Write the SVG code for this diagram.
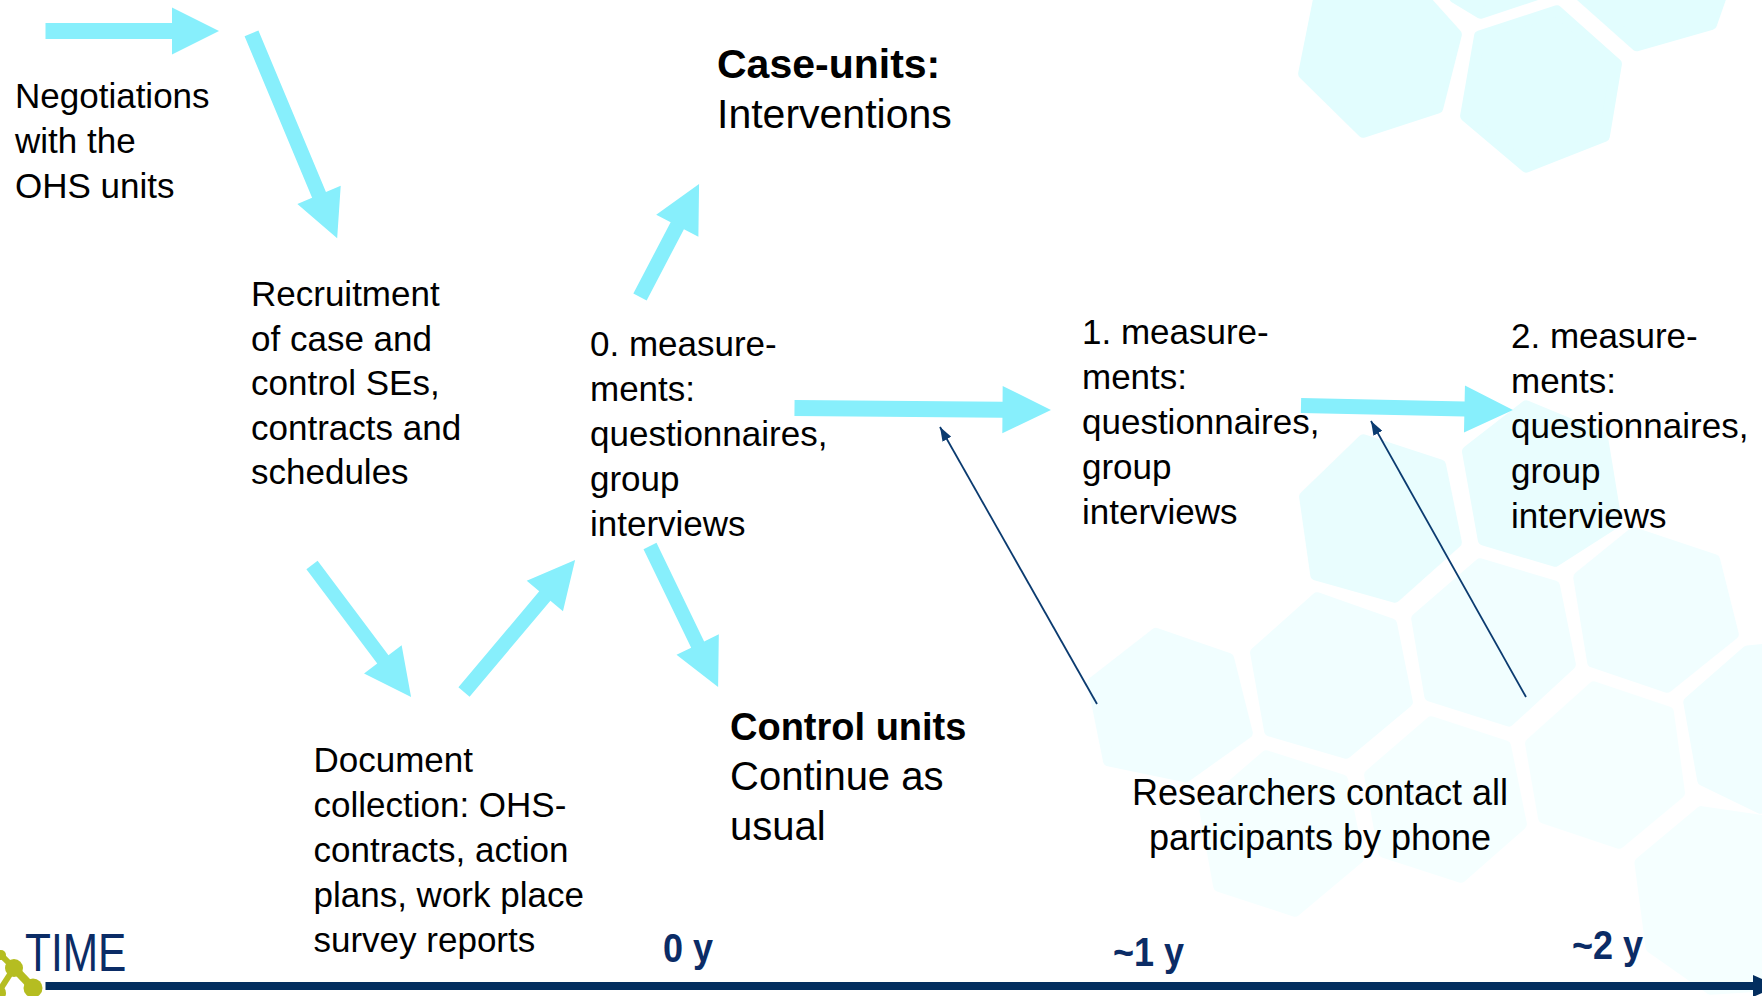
<svg xmlns="http://www.w3.org/2000/svg" width="1762" height="996" viewBox="0 0 1762 996">
  <defs>
    <style>
      .t { font-family: "Liberation Sans", Arial, sans-serif; font-size: 35px; fill: #000; }
      .head { font-size: 41px; }
      .bold { font-weight: bold; }
      .axis-label { font-family: "Liberation Sans", Arial, sans-serif; fill: #0B2C66; }
      .flow { fill: #87EFFC; }
      .link { stroke: #0B3B70; stroke-width: 1.8; fill: none; }
      .hex-top { fill: #E2FDFE; stroke: #E2FDFE; stroke-width: 12; stroke-linejoin: round; }
      .hex-mid { fill: #E9FDFE; stroke: #E9FDFE; stroke-width: 12; stroke-linejoin: round; }
      .hex-low { fill: #F1FEFF; stroke: #F1FEFF; stroke-width: 12; stroke-linejoin: round; }
      .hex-far { fill: #F5FFFF; stroke: #F5FFFF; stroke-width: 12; stroke-linejoin: round; }
      .dot { fill: #B5BD21; }
    </style>
    <marker id="tip" viewBox="0 0 14 10" refX="14" refY="5" markerWidth="14" markerHeight="10" markerUnits="userSpaceOnUse" orient="auto">
      <path d="M0,0 L14,5 L0,10 z" fill="#0B3B70"/>
    </marker>
  </defs>

  <rect width="1762" height="996" fill="#fff"/>

  <!-- decorative honeycomb backdrop -->
  <g id="backdrop">
    <polygon class="hex-top" points="1318,-25 1298,75 1362,138 1442,112 1462,33 1410,-25" transform="matrix(0.93,0,0,0.93,96.6,3.9)"/>
    <polygon class="hex-top" points="1558,5 1622,62 1609,140 1525,173 1460,118 1475,32" transform="matrix(0.93,0,0,0.93,107.9,6.2)"/>
    <polygon class="hex-top" points="1440,-30 1452,-2 1480,15 1540,-5 1545,-30" transform="matrix(0.93,0,0,0.93,104.3,-0.7)"/>
    <polygon class="hex-top" points="1565,-15 1636,48 1716,25 1730,-15" transform="matrix(0.93,0,0,0.93,115.5,1.1)"/>

    <polygon class="hex-mid" points="1362,434 1445,461 1462,544 1396,603 1311,579 1299,495" transform="matrix(0.93,0,0,0.93,96.6,36.3)"/>
    <polygon class="hex-mid" points="1525,400 1607,434 1622,525 1556,567 1479,544 1462,449" transform="matrix(0.93,0,0,0.93,107.9,33.9)"/>

    <polygon class="hex-low" points="1632,527 1719,556 1739,636 1668,693 1588,666 1573,575" transform="matrix(0.93,0,0,0.93,115.9,42.7)"/>
    <polygon class="hex-low" points="1748,645 1685,700 1700,784 1762,814 1800,800 1800,640" transform="matrix(0.93,0,0,0.93,121.8,51.1)"/>
    <polygon class="hex-low" points="1479,558 1559,582 1576,666 1510,727 1425,700 1411,617" transform="matrix(0.93,0,0,0.93,104.6,44.9)"/>
    <polygon class="hex-low" points="1316,592 1396,620 1413,704 1347,759 1265,735 1250,651" transform="matrix(0.93,0,0,0.93,93.2,47.3)"/>
    <polygon class="hex-low" points="1155,628 1233,655 1253,735 1187,782 1104,765 1087,681" transform="matrix(0.93,0,0,0.93,81.9,49.4)"/>

    <polygon class="hex-far" points="1593,681 1673,708 1685,795 1620,849 1539,822 1525,742" transform="matrix(0.93,0,0,0.93,112.4,53.6)"/>
    <polygon class="hex-far" points="1430,716 1510,742 1527,826 1462,883 1379,856 1364,773" transform="matrix(0.93,0,0,0.93,101.2,56)"/>
    <polygon class="hex-far" points="1265,750 1347,776 1364,860 1296,917 1214,890 1199,807" transform="matrix(0.93,0,0,0.93,89.7,58.4)"/>
    <polygon class="hex-far" points="1700,805 1634,860 1646,951 1710,996 1800,990 1800,820" transform="matrix(0.93,0,0,0.93,120.4,63)"/>
  </g>

  <!-- flow arrows and contact lines -->
  <g id="connectors">
    <polygon class="flow" points="0,-8 126.5,-8 126.5,-23.5 173.5,0 126.5,23.5 126.5,8 0,8" transform="translate(45.5,31)"/>
    <polygon class="flow" points="0,-7.5 175,-7.5 175,-23.5 222,0 175,23.5 175,7.5 0,7.5" transform="translate(251.5,33.4) rotate(67.3)"/>
    <polygon class="flow" points="0,-7 118,-7 118,-23.5 165,0 118,23.5 118,7 0,7" transform="translate(312,565) rotate(53.1)"/>
    <polygon class="flow" points="0,-7.3 125.5,-7.3 125.5,-23.7 172.5,0 125.5,23.7 125.5,7.3 0,7.3" transform="translate(464,692) rotate(-49.9)"/>
    <polygon class="flow" points="0,-7.2 109.5,-7.2 109.5,-23.5 156.5,0 109.5,23.5 109.5,7.2 0,7.2" transform="translate(650,546) rotate(64.2)"/>
    <polygon class="flow" points="0,-7.5 80.5,-7.5 80.5,-23.8 127.5,0 80.5,23.8 80.5,7.5 0,7.5" transform="translate(640,297) rotate(-62.4)"/>
    <polygon class="flow" points="0,-8 208,-8 208,-23.7 256.5,0 208,23.7 208,8 0,8" transform="translate(794.5,408) rotate(0.45)"/>
    <polygon class="flow" points="0,-7.5 163.5,-7.5 163.5,-23.5 212,0 163.5,23.5 163.5,7.5 0,7.5" transform="translate(1301,405.5) rotate(1.2)"/>

    <line class="link" x1="1097" y1="704" x2="940" y2="427" marker-end="url(#tip)"/>
    <line class="link" x1="1526" y1="697" x2="1371" y2="421" marker-end="url(#tip)"/>
  </g>

  <g id="node-negotiations">
    <text class="t" x="15" y="108">Negotiations</text>
    <text class="t" x="15" y="153">with the</text>
    <text class="t" x="15" y="198">OHS units</text>
  </g>

  <g id="node-recruitment">
    <text class="t" x="251" y="306">Recruitment</text>
    <text class="t" x="251" y="351">of case and</text>
    <text class="t" x="251" y="395">control SEs,</text>
    <text class="t" x="251" y="440">contracts and</text>
    <text class="t" x="251" y="484">schedules</text>
  </g>

  <g id="node-documents">
    <text class="t" x="313.5" y="772">Document</text>
    <text class="t" x="313.5" y="817">collection: OHS-</text>
    <text class="t" x="313.5" y="862">contracts, action</text>
    <text class="t" x="313.5" y="907">plans, work place</text>
    <text class="t" x="313.5" y="952">survey reports</text>
  </g>

  <g id="node-measure-0">
    <text class="t" x="590" y="356">0. measure-</text>
    <text class="t" x="590" y="401">ments:</text>
    <text class="t" x="590" y="446">questionnaires,</text>
    <text class="t" x="590" y="491">group</text>
    <text class="t" x="590" y="536">interviews</text>
  </g>

  <g id="node-case-units">
    <text class="t head bold" x="717" y="78">Case-units:</text>
    <text class="t head" x="717" y="128">Interventions</text>
  </g>

  <g id="node-control-units">
    <text class="t bold" x="730" y="740" style="font-size:38px">Control units</text>
    <text class="t" x="730" y="790" style="font-size:40px">Continue as</text>
    <text class="t" x="730" y="840" style="font-size:40px">usual</text>
  </g>

  <g id="node-measure-1">
    <text class="t" x="1082" y="344">1. measure-</text>
    <text class="t" x="1082" y="389">ments:</text>
    <text class="t" x="1082" y="434">questionnaires,</text>
    <text class="t" x="1082" y="479">group</text>
    <text class="t" x="1082" y="524">interviews</text>
  </g>

  <g id="node-measure-2">
    <text class="t" x="1511" y="348">2. measure-</text>
    <text class="t" x="1511" y="393">ments:</text>
    <text class="t" x="1511" y="438">questionnaires,</text>
    <text class="t" x="1511" y="483">group</text>
    <text class="t" x="1511" y="528">interviews</text>
  </g>

  <g id="node-phone-contact">
    <text class="t" x="1320" y="805" text-anchor="middle" style="font-size:36px">Researchers contact all</text>
    <text class="t" x="1320" y="850" text-anchor="middle" style="font-size:36px">participants by phone</text>
  </g>

  <!-- time axis -->
  <g id="time-axis">
    <g id="logo-dots">
      <line x1="14" y1="968" x2="33" y2="988" stroke="#B5BD21" stroke-width="8"/>
      <line x1="14" y1="968" x2="1" y2="955" stroke="#B5BD21" stroke-width="6"/>
      <line x1="14" y1="968" x2="-2" y2="993" stroke="#B5BD21" stroke-width="6"/>
      <circle class="dot" cx="14" cy="968" r="9"/>
      <circle class="dot" cx="33" cy="988" r="9.5"/>
      <circle class="dot" cx="-2" cy="993" r="8"/>
      <circle class="dot" cx="1" cy="955" r="5"/>
    </g>
    <line x1="45.5" y1="986" x2="1756" y2="986" stroke="#032E5F" stroke-width="8"/>
    <polygon points="1753,975 1778,986 1753,997" fill="#032E5F"/>
    <text class="axis-label" transform="translate(25,971) scale(0.8,1)" style="font-size:53px">TIME</text>
    <text class="axis-label bold" transform="translate(663,962) scale(0.9,1)" style="font-size:40px">0 y</text>
    <text class="axis-label bold" transform="translate(1113,966) scale(0.9,1)" style="font-size:40px">~1 y</text>
    <text class="axis-label bold" transform="translate(1572,959) scale(0.9,1)" style="font-size:40px">~2 y</text>
  </g>
</svg>
